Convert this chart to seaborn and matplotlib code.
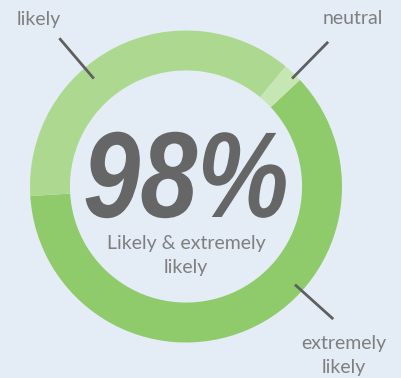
import matplotlib
matplotlib.use("Agg")
import matplotlib.pyplot as plt
from matplotlib.patheffects import AbstractPathEffect
from matplotlib.transforms import Affine2D
import numpy as np
import seaborn as sns

# ---- data ----
categories = ["extremely likely", "likely", "neutral"]
values = [61, 37, 2]
label_texts = ["extremely\nlikely", "likely", "neutral"]
center_value = "98%"
center_caption = "Likely & extremely\nlikely"

# ---- style ----
BG = "#e4ecf6"
colors = ["#8fcb6a", "#acd98f", "#c6e6b4"]

sns.set_theme(style="white")
plt.rcParams["font.family"] = ["Lato", "DejaVu Sans"]


class HStretch(AbstractPathEffect):
    """Condense text horizontally about its own centre."""
    def __init__(self, sx):
        super().__init__()
        self.sx = sx

    def draw_path(self, renderer, gc, tpath, affine, rgbFace=None):
        ext = tpath.get_extents()
        c = (ext.x0 + ext.x1) / 2
        t = Affine2D().translate(-c, 0).scale(self.sx, 1).translate(c, 0) + affine
        renderer.draw_path(gc, tpath, t, rgbFace)


fig = plt.figure(figsize=(4.02, 3.78), dpi=100, facecolor=BG)
ax = fig.add_axes([0, 0, 1, 1])
ax.set_facecolor(BG)

wedges, _ = ax.pie(values, colors=colors, startangle=43.1, counterclock=False,
                   radius=1.0, wedgeprops=dict(width=0.256, edgecolor="none"))

R_PX = 156.0
cx, cy = 186.0, 186.5
W, H = 402, 378
ax.set_aspect("auto")
ax.set_xlim(-cx / R_PX, (W - cx) / R_PX)
ax.set_ylim(-(H - cy) / R_PX, cy / R_PX)
ax.set_axis_off()


def px(x, y):
    return ((x - cx) / R_PX, (cy - y) / R_PX)


# leader lines (angle in degrees, inner/outer radius) and label positions
leaders = {
    "likely": (130.5, 0.91, 1.25, px(39, 19)),
    "neutral": (45.5, 0.97, 1.30, px(353, 19)),
    "extremely likely": (-42.0, 0.94, 1.27, px(344, 355)),
}
for cat, txt in zip(categories, label_texts):
    ang, r0, r1, pos = leaders[cat]
    a = np.deg2rad(ang)
    ax.plot([r0 * np.cos(a), r1 * np.cos(a)], [r0 * np.sin(a), r1 * np.sin(a)],
            color="#5f5f5f", lw=2.0, solid_capstyle="butt")
    ax.text(pos[0], pos[1], txt, ha="center", va="center", fontsize=14,
            color="#7f7f7f", linespacing=1.5)

x0, y0 = px(186, 217)
ax.text(x0, y0, center_value, ha="center", va="baseline", fontsize=88,
        fontweight="bold", fontstyle="italic", color="#666666",
        family=["Liberation Sans", "DejaVu Sans"],
        path_effects=[HStretch(0.84)])
x1, y1 = px(186, 255)
ax.text(x1, y1, center_caption, ha="center", va="center", fontsize=14,
        color="#7f7f7f", linespacing=1.5)

fig.savefig("out.png", dpi=100, facecolor=BG)
